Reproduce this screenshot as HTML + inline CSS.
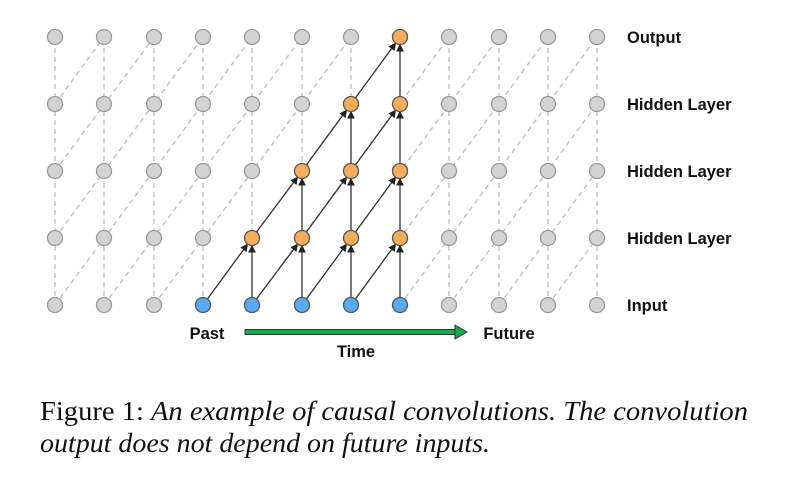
<!DOCTYPE html><html><head><style>body{margin:0;background:#fff}svg{display:block}
.g{fill:#d3d3d3;stroke:#999;stroke-width:1.3}.o{fill:#f6ad5a;stroke:#555;stroke-width:1.3}.b{fill:#5aa9f4;stroke:#555;stroke-width:1.3}
.d line{stroke:#bbb;stroke-width:1.3;stroke-dasharray:5,4}.k line{stroke:#333;stroke-width:1.3;marker-end:url(#a)}</style></head><body>
<svg width="802" height="480" xmlns="http://www.w3.org/2000/svg">
<defs><marker id="a" markerWidth="6" markerHeight="6" refX="5" refY="3" orient="auto"><path d="M0,0L6,3L0,6z" fill="#222"/></marker></defs>
<g class="d">
<line x1="55" y1="305" x2="55" y2="37"/><line x1="104" y1="305" x2="104" y2="37"/><line x1="154" y1="305" x2="154" y2="37"/><line x1="203" y1="305" x2="203" y2="37"/><line x1="252" y1="305" x2="252" y2="37"/><line x1="302" y1="305" x2="302" y2="37"/><line x1="351" y1="305" x2="351" y2="37"/><line x1="400" y1="305" x2="400" y2="37"/><line x1="449" y1="305" x2="449" y2="37"/><line x1="499" y1="305" x2="499" y2="37"/><line x1="548" y1="305" x2="548" y2="37"/><line x1="597" y1="305" x2="597" y2="37"/>
<line x1="55" y1="305" x2="252" y2="37"/><line x1="104" y1="305" x2="302" y2="37"/><line x1="154" y1="305" x2="351" y2="37"/><line x1="203" y1="305" x2="400" y2="37"/><line x1="252" y1="305" x2="449" y2="37"/><line x1="302" y1="305" x2="499" y2="37"/><line x1="351" y1="305" x2="548" y2="37"/><line x1="400" y1="305" x2="597" y2="37"/><line x1="449" y1="305" x2="597" y2="104"/><line x1="499" y1="305" x2="597" y2="171"/><line x1="548" y1="305" x2="597" y2="238"/><line x1="55" y1="238" x2="203" y2="37"/><line x1="55" y1="171" x2="154" y2="37"/><line x1="55" y1="104" x2="104" y2="37"/>
</g>
<g fill="none" stroke="#fff" stroke-width="3">
<line x1="252" y1="300" x2="252" y2="243"/><line x1="302" y1="300" x2="302" y2="176"/><line x1="351" y1="300" x2="351" y2="109"/><line x1="400" y1="300" x2="400" y2="42"/>
</g>
<g class="k">
<line x1="252" y1="305" x2="252" y2="246"/>
<line x1="302" y1="305" x2="302" y2="246"/><line x1="302" y1="238" x2="302" y2="179"/>
<line x1="351" y1="305" x2="351" y2="246"/><line x1="351" y1="238" x2="351" y2="179"/><line x1="351" y1="171" x2="351" y2="112"/>
<line x1="400" y1="305" x2="400" y2="246"/><line x1="400" y1="238" x2="400" y2="179"/><line x1="400" y1="171" x2="400" y2="112"/><line x1="400" y1="104" x2="400" y2="45"/>
<line x1="203" y1="305" x2="247.3" y2="244.5"/><line x1="252" y1="305" x2="297.3" y2="244.5"/><line x1="302" y1="305" x2="346.3" y2="244.5"/><line x1="351" y1="305" x2="395.3" y2="244.5"/>
<line x1="252" y1="238" x2="297.3" y2="177.5"/><line x1="302" y1="238" x2="346.3" y2="177.5"/><line x1="351" y1="238" x2="395.3" y2="177.5"/>
<line x1="302" y1="171" x2="346.3" y2="110.5"/><line x1="351" y1="171" x2="395.3" y2="110.5"/>
<line x1="351" y1="104" x2="395.3" y2="43.5"/>
</g>
<g>
<circle class="g" cx="55" cy="305" r="7.5"/><circle class="g" cx="104" cy="305" r="7.5"/><circle class="g" cx="154" cy="305" r="7.5"/><circle class="b" cx="203" cy="305" r="7.5"/><circle class="b" cx="252" cy="305" r="7.5"/><circle class="b" cx="302" cy="305" r="7.5"/><circle class="b" cx="351" cy="305" r="7.5"/><circle class="b" cx="400" cy="305" r="7.5"/><circle class="g" cx="449" cy="305" r="7.5"/><circle class="g" cx="499" cy="305" r="7.5"/><circle class="g" cx="548" cy="305" r="7.5"/><circle class="g" cx="597" cy="305" r="7.5"/>
<circle class="g" cx="55" cy="238" r="7.5"/><circle class="g" cx="104" cy="238" r="7.5"/><circle class="g" cx="154" cy="238" r="7.5"/><circle class="g" cx="203" cy="238" r="7.5"/><circle class="o" cx="252" cy="238" r="7.5"/><circle class="o" cx="302" cy="238" r="7.5"/><circle class="o" cx="351" cy="238" r="7.5"/><circle class="o" cx="400" cy="238" r="7.5"/><circle class="g" cx="449" cy="238" r="7.5"/><circle class="g" cx="499" cy="238" r="7.5"/><circle class="g" cx="548" cy="238" r="7.5"/><circle class="g" cx="597" cy="238" r="7.5"/>
<circle class="g" cx="55" cy="171" r="7.5"/><circle class="g" cx="104" cy="171" r="7.5"/><circle class="g" cx="154" cy="171" r="7.5"/><circle class="g" cx="203" cy="171" r="7.5"/><circle class="g" cx="252" cy="171" r="7.5"/><circle class="o" cx="302" cy="171" r="7.5"/><circle class="o" cx="351" cy="171" r="7.5"/><circle class="o" cx="400" cy="171" r="7.5"/><circle class="g" cx="449" cy="171" r="7.5"/><circle class="g" cx="499" cy="171" r="7.5"/><circle class="g" cx="548" cy="171" r="7.5"/><circle class="g" cx="597" cy="171" r="7.5"/>
<circle class="g" cx="55" cy="104" r="7.5"/><circle class="g" cx="104" cy="104" r="7.5"/><circle class="g" cx="154" cy="104" r="7.5"/><circle class="g" cx="203" cy="104" r="7.5"/><circle class="g" cx="252" cy="104" r="7.5"/><circle class="g" cx="302" cy="104" r="7.5"/><circle class="o" cx="351" cy="104" r="7.5"/><circle class="o" cx="400" cy="104" r="7.5"/><circle class="g" cx="449" cy="104" r="7.5"/><circle class="g" cx="499" cy="104" r="7.5"/><circle class="g" cx="548" cy="104" r="7.5"/><circle class="g" cx="597" cy="104" r="7.5"/>
<circle class="g" cx="55" cy="37" r="7.5"/><circle class="g" cx="104" cy="37" r="7.5"/><circle class="g" cx="154" cy="37" r="7.5"/><circle class="g" cx="203" cy="37" r="7.5"/><circle class="g" cx="252" cy="37" r="7.5"/><circle class="g" cx="302" cy="37" r="7.5"/><circle class="g" cx="351" cy="37" r="7.5"/><circle class="o" cx="400" cy="37" r="7.5"/><circle class="g" cx="449" cy="37" r="7.5"/><circle class="g" cx="499" cy="37" r="7.5"/><circle class="g" cx="548" cy="37" r="7.5"/><circle class="g" cx="597" cy="37" r="7.5"/>
</g>
<g font-family="Liberation Sans,sans-serif" font-weight="bold" font-size="16.5" fill="#111">
<text x="627" y="43">Output</text><text x="627" y="110">Hidden Layer</text><text x="627" y="177">Hidden Layer</text><text x="627" y="244">Hidden Layer</text><text x="627" y="311">Input</text>
<text x="207" y="339" text-anchor="middle">Past</text><text x="509" y="339" text-anchor="middle">Future</text><text x="356" y="357" text-anchor="middle">Time</text></g>
<rect x="245" y="329.5" width="210" height="5" fill="#1aa851" stroke="#333" stroke-width="1"/>
<path d="M455,325L467,332L455,339z" fill="#1aa851" stroke="#333" stroke-width="1"/>
<g font-family="Liberation Serif,serif" font-size="27" fill="#111">
<text x="40" y="420" textLength="708" lengthAdjust="spacingAndGlyphs">Figure 1: <tspan font-style="italic">An example of causal convolutions. The convolution</tspan></text>
<text x="40" y="452" font-style="italic" textLength="450" lengthAdjust="spacingAndGlyphs">output does not depend on future inputs.</text></g>
</svg></body></html>
